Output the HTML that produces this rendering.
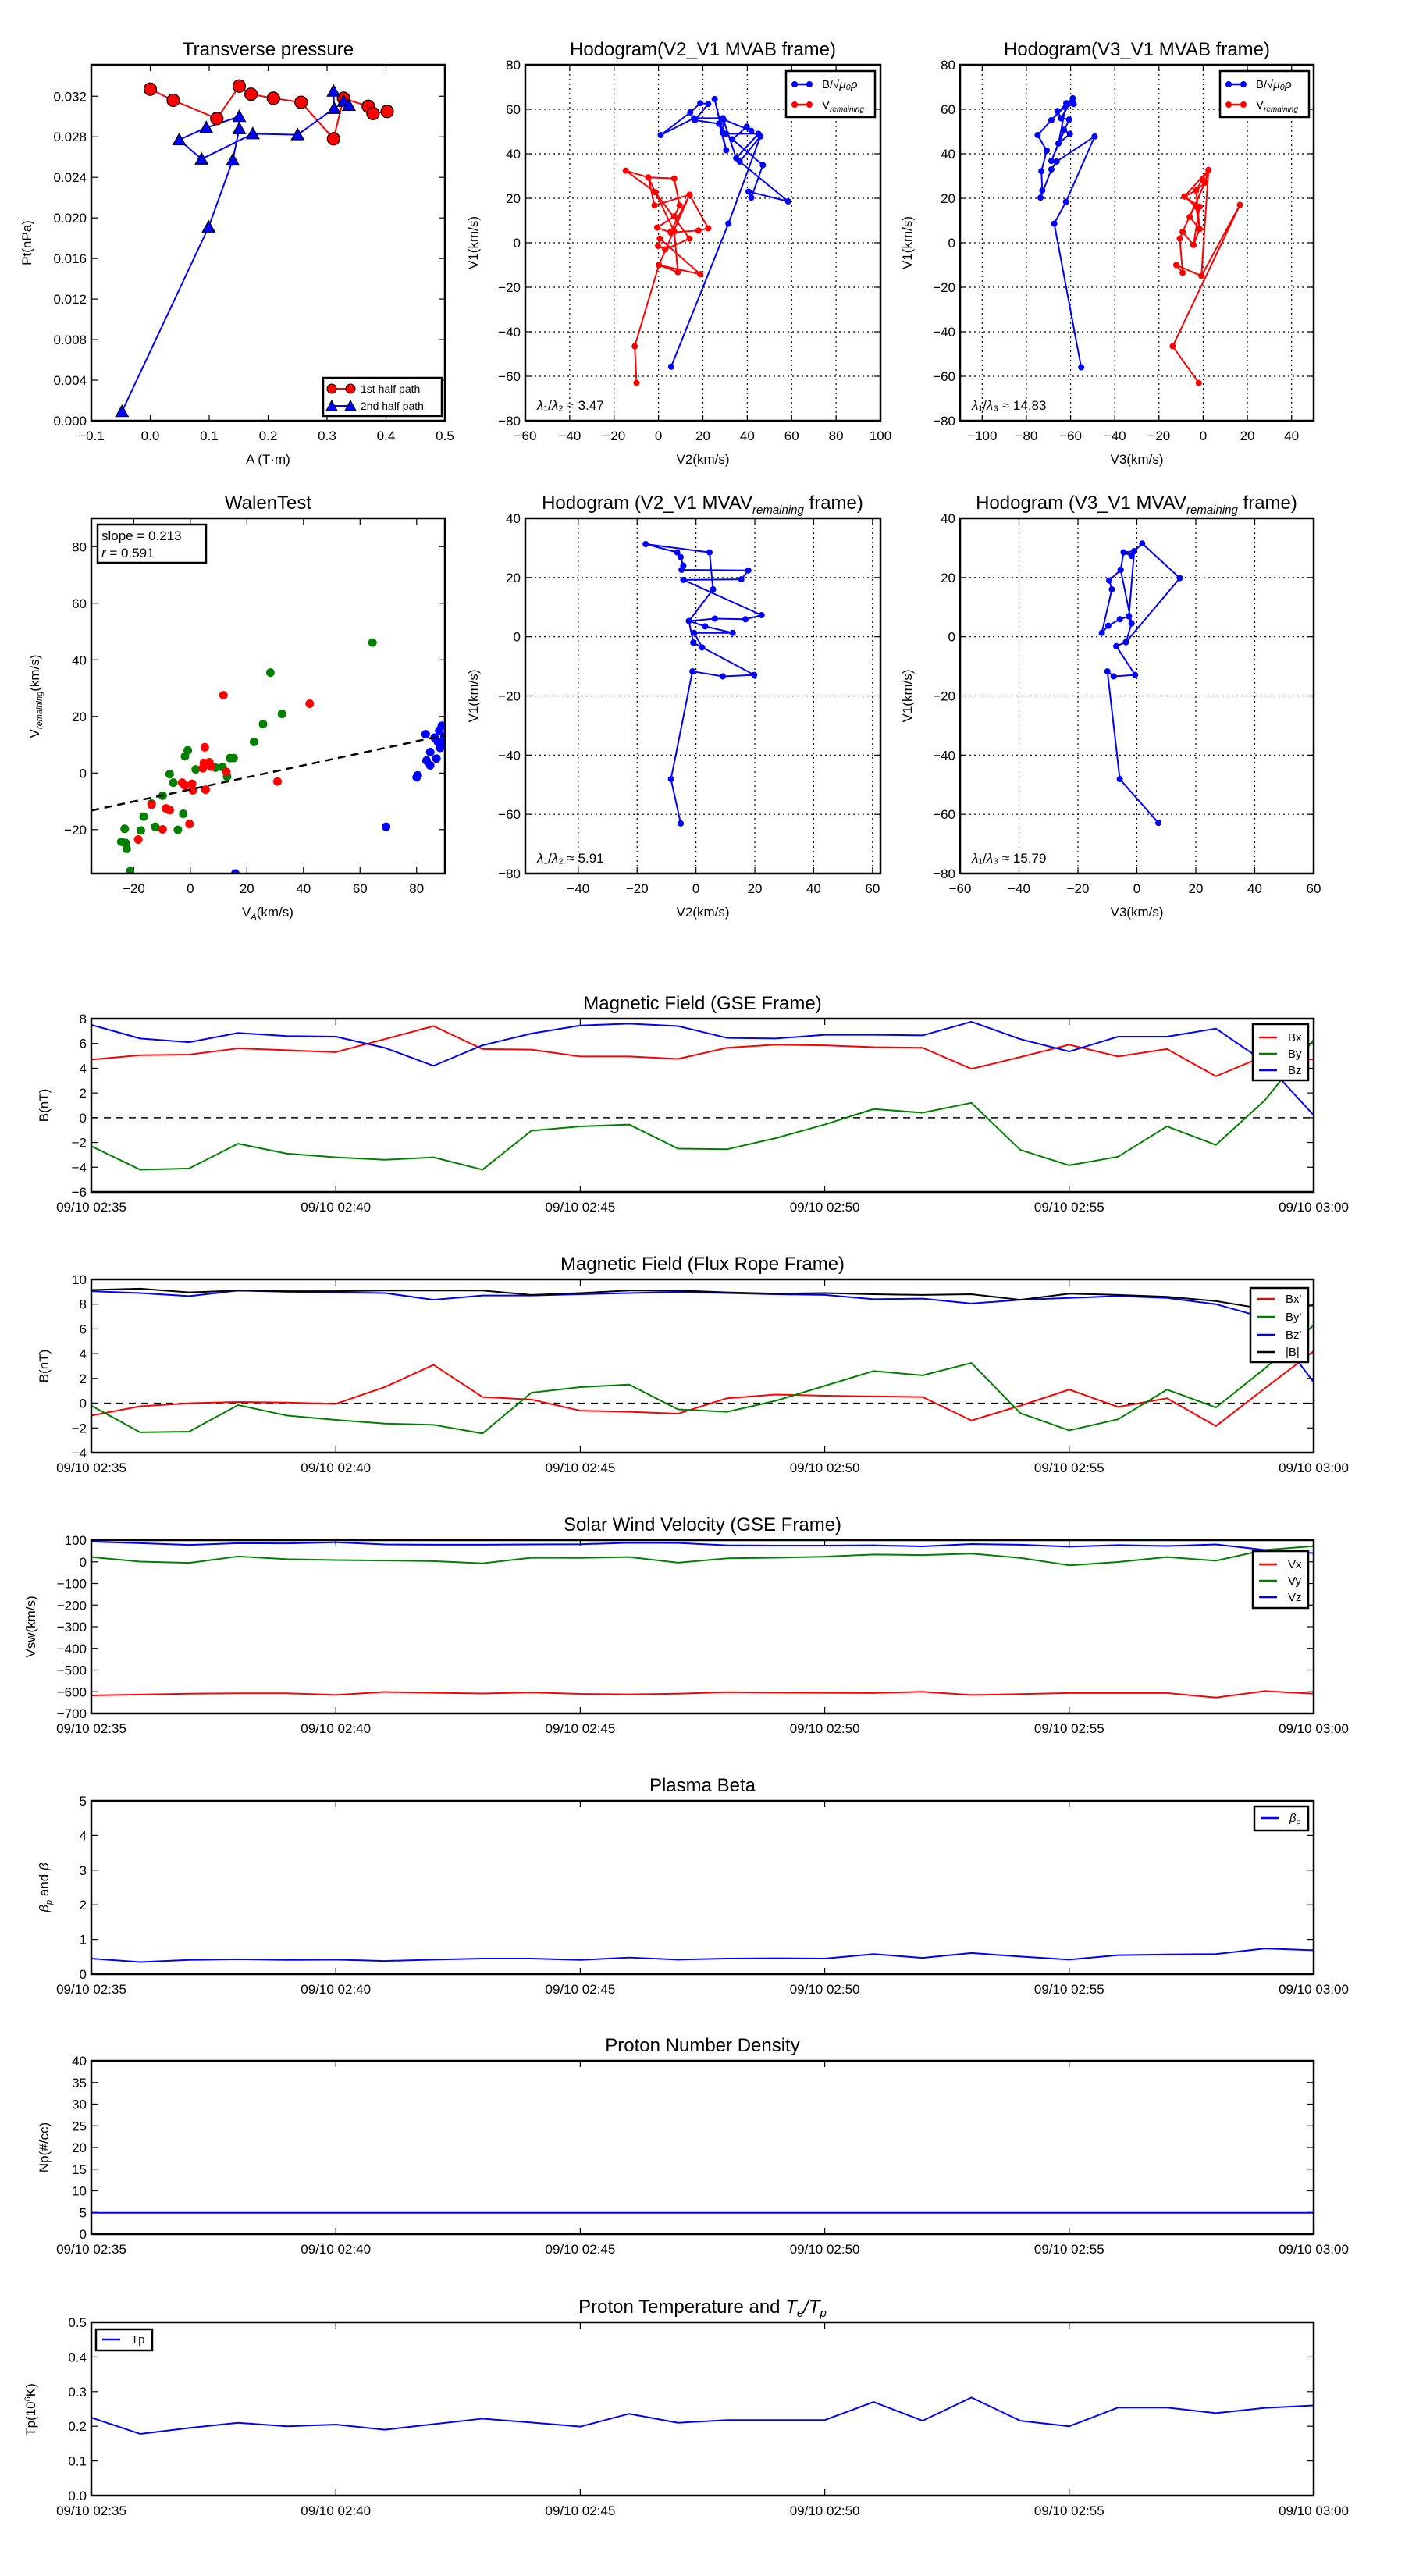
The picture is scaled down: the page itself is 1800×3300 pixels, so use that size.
<!DOCTYPE html>
<html><head><meta charset="utf-8"><style>
html,body{margin:0;padding:0;background:#fff;}
svg{display:block;font-family:"Liberation Sans",sans-serif;}
</style></head><body>
<svg id="fig" xmlns="http://www.w3.org/2000/svg" width="1800" height="3300" viewBox="0 0 1800 3300"><rect width="1800" height="3300" fill="#fff"/></svg>
<script>
// ===== Data =====
const tpRedA=[0.0,0.039,0.113,0.151,0.171,0.209,0.256,0.311,0.328,0.370,0.378,0.402];
const tpRedP=[0.0327,0.0316,0.0298,0.0330,0.0322,0.0318,0.0314,0.0278,0.0318,0.0310,0.0303,0.0305];
const tpBlueA=[-0.048,0.099,0.140,0.151,0.151,0.095,0.049,0.087,0.174,0.250,0.312,0.311,0.328,0.337];
const tpBlueP=[0.0009,0.0191,0.0257,0.0288,0.0300,0.0289,0.0277,0.0258,0.0283,0.0282,0.0308,0.0325,0.0315,0.0311];

const h1BlueX=[5.7,31.5,45.9,36.6,58.4,40.6,41.8,47,33.3,39.8,41.8,29.3,28.9,25.3,30.5,27.3,16.4,22.4,18.8,14.3,1,16,29,35,45,30.5];
const h1BlueY=[-55.7,8.6,47.8,36.5,18.6,23,20.3,34.9,46.5,52.2,50.3,55.4,49.5,64.6,41.6,53.5,55.1,62.4,62.7,58.6,48.4,56,56,38,49,49];
const h1RedX=[-9.9,-10.7,0.2,18.8,0.6,-0.2,3,14,-1.4,-14.7,-4.6,7.1,9.5,7.1,-0.6,5.5,18,22.4,14,-1.8,-4.6,7.1,8.7,0.2,14,5.5];
const h1RedY=[-63,-46.5,-10,-14.1,1.9,-1.4,-3,1.9,22.7,32.4,29.4,28.9,16.8,11.9,6.8,4.6,5.5,6.5,21.6,16.8,29.4,5,-13.2,-10,21.6,5];
const h2BlueX=[-55.2,-67.4,-62.1,-49.1,-66.3,-68.7,-73.6,-72.8,-73.2,-70.8,-74.9,-68.7,-61.9,-59,-58.6,-65.9,-64.3,-60.7,-68.7,-63,-60.3,-65.5,-61.9,-68.7,-59,-64.3];
const h2BlueY=[-56,8.6,18.4,47.8,36.5,33,20.3,23.5,32.2,41.4,48.4,55.1,62.7,64.9,62.4,59.2,56,55.4,36.8,50.8,48.9,44.6,62.7,55.1,64.9,56];
const h2RedX=[-2,-13.8,16.6,-0.8,-12.2,-9.3,-10.6,-9.3,-4.4,-1.6,-3.2,-8.5,-3.2,-0.4,2.4,0.8,-6.1,-1.6,-3.2,0.8,-9.3,-4.4,-1.6,-8.5,2.4,-0.8];
const h2RedY=[-63,-46.5,17,-14.9,-10,-13.5,1.9,4.9,-1,6.2,16.2,20.8,23.5,28.4,32.7,27,11.6,6.2,23.5,27,4.9,-1,16.2,20.8,32.7,-14.9];
const wGreenX=[64.4,28.3,32.4,25.7,22.5,14,15.3,-0.9,-1.9,1.9,-7.3,-6,-9.8,-13.7,-16.5,-23.2,-22.9,-24.4,-22.5,-17.5,-12.4,-4.4,-2.5,-21.3,8.9,11.4,13];
const wGreenY=[46.1,35.5,20.9,17.3,11,5.3,5.3,8,5.9,1.3,-0.4,-3.4,-8,-10.8,-15.4,-19.7,-24.7,-24.3,-26.8,-20.3,-19,-20.1,-14.4,-34.7,1.9,2.1,-1.3];
const wRedX=[11.7,42.2,5.1,4.8,6.7,4.4,7.3,12.7,0.6,0.9,-1.9,5.4,-2.9,-7.3,-8.6,-9.8,-0.3,-18.4,30.8,-13.7];
const wRedY=[27.5,24.5,9.1,3.6,3.8,1.7,2.3,0.4,-3.8,-6.1,-4.4,-5.9,-3.4,-13.1,-12.5,-19.9,-18,-23.5,-3,-11.2];
const wBlueX=[83.2,83.5,84.8,84.8,86.4,88,88.9,88.3,87,80.4,80,69.2,15.9,89.5,89.8,87.5];
const wBlueY=[13.7,4.4,2.7,7.4,12.5,15,16.7,8.9,5.1,-0.8,-1.5,-19,-35.5,10.6,13,11];
const walenFit=[0.213,-5.8];
const m1X=[-5.2,-8.5,-1.2,9.1,19.8,-0.9,2.1,-0.6,12.5,3.1,-2.4,6.4,16.8,22.3,-4.3,15.4,17.8,-4.9,-4.3,-5.2,-6.4,-17.1,4.6,5.8,-2.4,-0.9];
const m1Y=[-63.1,-48.1,-11.7,-13.4,-12.9,-2,-3.6,1.3,1.3,3.5,5.3,6.1,5.9,7.3,19.2,19.4,22.4,22.6,24,26.9,28.5,31.3,28.5,16,5.3,-2];
const m2X=[7.3,-5.8,-10,-7.9,-0.6,-7,-3.7,-1.8,-2.7,-5.8,-9.7,-11.9,-8.5,-9.4,-5.5,-4.5,-1.8,-0.9,1.8,14.6,-3.7,-1.8,-5.5,-4.5,-0.9,-2.7];
const m2Y=[-62.9,-48.1,-11.7,-13.4,-12.9,-3.2,-1.8,4.5,6.9,5.9,3.7,1.3,16,19,22.6,28.5,27.3,28.9,31.5,19.8,-1.8,4.5,22.6,28.5,28.9,6.9];

const minutes=[0,1,2,3,4,5,6,7,8,9,10,11,12,13,14,15,16,17,18,19,20,21,22,23,24,25];
const timeTicks=[0,5,10,15,20,25];
const timeLabels=["09/10 02:35","09/10 02:40","09/10 02:45","09/10 02:50","09/10 02:55","09/10 03:00"];
const gBx=[4.7,5.05,5.1,5.6,5.45,5.3,6.35,7.4,5.55,5.5,4.95,4.95,4.75,5.65,5.9,5.85,5.7,5.65,3.95,4.9,5.9,4.95,5.55,3.35,5.0,4.7];
const gBy=[-2.3,-4.2,-4.1,-2.1,-2.9,-3.2,-3.4,-3.2,-4.2,-1.05,-0.7,-0.55,-2.5,-2.55,-1.65,-0.55,0.7,0.4,1.2,-2.6,-3.85,-3.15,-0.7,-2.2,1.4,6.3];
const gBz=[7.5,6.4,6.1,6.85,6.6,6.55,5.65,4.2,5.85,6.8,7.45,7.6,7.4,6.45,6.4,6.7,6.7,6.65,7.75,6.35,5.35,6.55,6.55,7.2,4.5,0.2];
const fBx=[-1.0,-0.25,0.0,0.1,0.05,-0.05,1.3,3.1,0.5,0.3,-0.6,-0.7,-0.85,0.4,0.7,0.6,0.55,0.5,-1.4,-0.2,1.1,-0.3,0.4,-1.85,1.2,4.2];
const fBy=[-0.2,-2.35,-2.3,-0.15,-1.0,-1.35,-1.65,-1.75,-2.45,0.85,1.3,1.5,-0.5,-0.7,0.2,1.4,2.6,2.25,3.25,-0.8,-2.2,-1.3,1.1,-0.35,2.8,6.3];
const fBz=[9.05,8.9,8.65,9.1,9.0,8.95,8.9,8.35,8.7,8.7,8.8,8.9,9.0,8.9,8.8,8.75,8.4,8.45,8.05,8.35,8.5,8.65,8.5,8.0,6.9,1.7];
const fB=[9.15,9.25,8.95,9.1,9.05,9.05,9.1,9.1,9.1,8.75,8.9,9.1,9.1,8.95,8.85,8.9,8.8,8.75,8.8,8.35,8.85,8.75,8.6,8.25,7.6,7.9];
const vx=[-617,-613,-609,-607,-607,-615,-601,-605,-608,-603,-610,-612,-609,-602,-604,-605,-606,-600,-615,-611,-606,-606,-606,-627,-597,-609];
const vy=[22,1,-5,25,12,8,6,3,-7,19,18,22,-4,16,19,24,34,31,38,18,-16,-1,22,5,55,72];
const vz=[93,86,78,86,85,90,80,79,79,80,81,88,87,76,75,75,76,71,82,79,70,77,73,80,55,40];
const beta=[0.45,0.35,0.41,0.43,0.41,0.42,0.38,0.42,0.45,0.45,0.41,0.48,0.42,0.45,0.46,0.45,0.58,0.47,0.61,0.51,0.42,0.55,0.57,0.58,0.74,0.69];
const np=[4.9,4.9,4.9,4.9,4.9,4.9,4.9,4.9,4.9,4.9,4.9,4.9,4.9,4.9,4.9,4.9,4.9,4.9,4.9,4.9,4.9,4.9,4.9,4.9,4.9,4.9];
const tp=[0.225,0.178,0.195,0.210,0.200,0.205,0.190,0.206,0.222,0.211,0.199,0.236,0.210,0.218,0.218,0.218,0.270,0.216,0.283,0.216,0.200,0.254,0.254,0.238,0.253,0.260];

// ===== Helpers =====
const NS="http://www.w3.org/2000/svg";
const svg=document.getElementById('fig');
let clipN=0;
function mk(tag,parent){const e=document.createElementNS(NS,tag);parent.appendChild(e);return e;}
function at(e,o){for(const k in o)e.setAttribute(k,o[k]);return e;}
function fmt(v,d){const s=Math.abs(v).toFixed(d);return (v<-1e-9?"\u2212":"")+s;}
function txt(parent,x,y,s,size,anchor,extra){const t=mk('text',parent);at(t,{x:x,y:y,'font-size':size,'text-anchor':anchor||'middle',fill:'#000'});if(extra)at(t,extra);t.textContent=s;return t;}

function panel(name,x0,y0,w,h,xd,yd,xt,yt,xlab,ylab,grid){
  const g=mk('g',svg);
  
  
  const sx=v=>x0+(v-xd[0])/(xd[1]-xd[0])*w;
  const sy=v=>y0+h-(v-yd[0])/(yd[1]-yd[0])*h;
  if(grid){
    xt.forEach(v=>{const l=mk('line',g);at(l,{x1:sx(v),x2:sx(v),y1:y0,y2:y0+h,stroke:'#000','stroke-width':1.2,'stroke-dasharray':'2,4'});});
    yt.forEach(v=>{const l=mk('line',g);at(l,{x1:x0,x2:x0+w,y1:sy(v),y2:sy(v),stroke:'#000','stroke-width':1.2,'stroke-dasharray':'2,4'});});
  }
  xt.forEach((v,i)=>{
    const a=mk('line',g);at(a,{x1:sx(v),x2:sx(v),y1:y0,y2:y0+8,stroke:'#000','stroke-width':1.2});
    const b=mk('line',g);at(b,{x1:sx(v),x2:sx(v),y1:y0+h,y2:y0+h-8,stroke:'#000','stroke-width':1.2});
    const t=txt(g,sx(v),y0+h+25,xlab(v,i),17);
    
    
  });
  yt.forEach((v,i)=>{
    const a=mk('line',g);at(a,{x1:x0,x2:x0+8,y1:sy(v),y2:sy(v),stroke:'#000','stroke-width':1.2});
    const b=mk('line',g);at(b,{x1:x0+w,x2:x0+w-8,y1:sy(v),y2:sy(v),stroke:'#000','stroke-width':1.2});
    const t=txt(g,x0-6,sy(v)+6,ylab(v,i),17,'end');
    
    
  });
  const cid='c'+(clipN++);
  const cp=mk('clipPath',g);cp.setAttribute('id',cid);
  const cr=mk('rect',cp);at(cr,{x:x0,y:y0,width:w,height:h});
  const data=mk('g',g);data.setAttribute('clip-path','url(#'+cid+')');
  
  
  const top=mk('g',g);
  const fr=mk('rect',top);at(fr,{x:x0,y:y0,width:w,height:h,fill:'none',stroke:'#000','stroke-width':2.5});
  
  
  return {g,data,top,sx,sy,x0,y0,w,h};
}
function poly(p,X,Y,color,lw,dash){const l=mk('polyline',p.data);at(l,{points:X.map((x,i)=>p.sx(x)+','+p.sy(Y[i])).join(' '),fill:'none',stroke:color,'stroke-width':lw||2,'stroke-linejoin':'round'});if(dash)l.setAttribute('stroke-dasharray',dash);return l;}
function title(p,s){const t=txt(p.g,p.x0+p.w/2,p.y0-12,s,24);return t;}
function ylabel(p,x,s){const t=txt(p.g,x,p.y0+p.h/2,s,17,'middle',{transform:'rotate(-90 '+x+' '+(p.y0+p.h/2)+')'});return t;}
function xlabel(p,s){const t=txt(p.g,p.x0+p.w/2,p.y0+p.h+55,s,17);return t;}
function dots(p,X,Y,color,r,edge){X.forEach((x,i)=>{const c=mk('circle',p.data);at(c,{cx:p.sx(x),cy:p.sy(Y[i]),r:r,fill:color,stroke:edge||'none','stroke-width':1.2});});}
function tris(p,X,Y,color,s){X.forEach((x,i)=>{const cx=p.sx(x),cy=p.sy(Y[i]);const t=mk('polygon',p.data);at(t,{points:(cx)+','+(cy-s)+' '+(cx-s)+','+(cy+s*0.8)+' '+(cx+s)+','+(cy+s*0.8),fill:color,stroke:'#000','stroke-width':1.2});});}
function legendBox(p,x,y,w,h){const r=mk('rect',p.top);at(r,{x:x,y:y,width:w,height:h,fill:'#fff',stroke:'#000','stroke-width':2.5});return r;}
function legLine(p,x,y,color,label,mark){const l=mk('line',p.top);at(l,{x1:x,x2:x+23,y1:y,y2:y,stroke:color,'stroke-width':2.5});if(mark){[x+2,x+21].forEach(cx=>{const c=mk('circle',p.top);at(c,{cx:cx,cy:y,r:mark,fill:color});});}
  const t=txt(p.top,x+37,y+5,'',15,'start');t.innerHTML=label;return t;}
function range(a,b,s){const r=[];for(let v=a;v<=b+1e-9;v+=s)r.push(Math.round(v*1e6)/1e6);return r;}

// ===== Transverse pressure =====
const p1=panel('transverse-pressure-chart',117,83,453,456,[-0.1,0.5],[0,0.0351],range(-0.1,0.5,0.1),range(0,0.032,0.004),v=>fmt(v,1),v=>fmt(v,3),false);
title(p1,'Transverse pressure');ylabel(p1,40,'Pt(nPa)');xlabel(p1,'A (T\u00b7m)');
poly(p1,tpRedA,tpRedP,'#f00',2);poly(p1,tpBlueA,tpBlueP,'#00f',2);
dots(p1,tpRedA,tpRedP,'#f00',8,'#000');tris(p1,tpBlueA,tpBlueP,'#00f',8);
legendBox(p1,414,484,152,49);
{const y=498;const l=mk('line',p1.top);at(l,{x1:422,x2:452,y1:y,y2:y,stroke:'#f00','stroke-width':2});[425,449].forEach(cx=>{const c=mk('circle',p1.top);at(c,{cx:cx,cy:y,r:6,fill:'#f00',stroke:'#000'});});txt(p1.top,462,y+5,'1st half path',14,'start');
 const y2=520;const l2=mk('line',p1.top);at(l2,{x1:422,x2:452,y1:y2,y2:y2,stroke:'#00f','stroke-width':2});[425,449].forEach(cx=>{const t=mk('polygon',p1.top);at(t,{points:cx+','+(y2-7)+' '+(cx-7)+','+(y2+6)+' '+(cx+7)+','+(y2+6),fill:'#00f',stroke:'#000'});});txt(p1.top,462,y2+5,'2nd half path',14,'start');}

// ===== Hodogram V2_V1 MVAB =====
const p2=panel('hodogram-v2-v1-mvab',673,83,455,456,[-60,100],[-80,80],range(-60,100,20),range(-80,80,20),v=>fmt(v,0),v=>fmt(v,0),true);
title(p2,'Hodogram(V2_V1 MVAB frame)');ylabel(p2,612,'V1(km/s)');xlabel(p2,'V2(km/s)');
poly(p2,h1BlueX,h1BlueY,'#00f',2);dots(p2,h1BlueX,h1BlueY,'#00f',4);
poly(p2,h1RedX,h1RedY,'#f00',2);dots(p2,h1RedX,h1RedY,'#f00',4);
legendBox(p2,1007,91,114,59);
legLine(p2,1016,108,'#00f','B/\u221a<tspan font-style="italic">\u03bc\u2080\u03c1</tspan>',4);
legLine(p2,1016,134,'#f00','V<tspan font-size="10" font-style="italic" dy="4">remaining</tspan>',4);
txt(p2.g,688,525,'',17,'start').innerHTML='<tspan font-style="italic">\u03bb</tspan>\u2081/<tspan font-style="italic">\u03bb</tspan>\u2082 \u2248 3.47';

// ===== Hodogram V3_V1 MVAB =====
const p3=panel('hodogram-v3-v1-mvab',1230,83,453,456,[-110,50],[-80,80],range(-100,40,20),range(-80,80,20),v=>fmt(v,0),v=>fmt(v,0),true);
title(p3,'Hodogram(V3_V1 MVAB frame)');ylabel(p3,1168,'V1(km/s)');xlabel(p3,'V3(km/s)');
poly(p3,h2BlueX,h2BlueY,'#00f',2);dots(p3,h2BlueX,h2BlueY,'#00f',4);
poly(p3,h2RedX,h2RedY,'#f00',2);dots(p3,h2RedX,h2RedY,'#f00',4);
legendBox(p3,1563,91,114,59);
legLine(p3,1572,108,'#00f','B/\u221a<tspan font-style="italic">\u03bc\u2080\u03c1</tspan>',4);
legLine(p3,1572,134,'#f00','V<tspan font-size="10" font-style="italic" dy="4">remaining</tspan>',4);
txt(p3.g,1245,525,'',17,'start').innerHTML='<tspan font-style="italic">\u03bb</tspan>\u2081/<tspan font-style="italic">\u03bb</tspan>\u2083 \u2248 14.83';

// ===== WalenTest =====
const p4=panel('walen-test-chart',117,664,453,455,[-35,90],[-35.5,90],range(-20,80,20),range(-20,80,20),v=>fmt(v,0),v=>fmt(v,0),false);
title(p4,'WalenTest');
txt(p4.g,343,1174,'',17).innerHTML='V<tspan font-size="11" font-style="italic" dy="4">A</tspan><tspan dy="-4">(km/s)</tspan>';
{const t=txt(p4.g,50,892,'',17,'middle',{transform:'rotate(-90 50 892)'});t.innerHTML='V<tspan font-size="11" font-style="italic" dy="4">remaining</tspan><tspan dy="-4">(km/s)</tspan>';}
dots(p4,wGreenX,wGreenY,'#008000',5.5);dots(p4,wRedX,wRedY,'#f00',5.5);dots(p4,wBlueX,wBlueY,'#00f',5.5);
{const xs=[-35,90];poly(p4,xs,xs.map(x=>walenFit[0]*x+walenFit[1]),'#000',2.5,'10,7');}
legendBox(p4,125,672,139,49);
txt(p4.top,130,692,'slope = 0.213',17,'start');
txt(p4.top,130,714,'',17,'start').innerHTML='<tspan font-style="italic">r</tspan> = 0.591';

// ===== MVAV V2_V1 =====
const p5=panel('hodogram-v2-v1-mvav',673,664,455,455,[-58,62.7],[-80,40],range(-40,60,20),range(-80,40,20),v=>fmt(v,0),v=>fmt(v,0),true);
txt(p5.g,900,652,'',24).innerHTML='Hodogram (V2_V1 MVAV<tspan font-size="15" font-style="italic" dy="6">remaining</tspan><tspan dy="-6"> frame)</tspan>';
ylabel(p5,612,'V1(km/s)');xlabel(p5,'V2(km/s)');
poly(p5,m1X,m1Y,'#00f',2);dots(p5,m1X,m1Y,'#00f',4);
txt(p5.g,688,1105,'',17,'start').innerHTML='<tspan font-style="italic">\u03bb</tspan>\u2081/<tspan font-style="italic">\u03bb</tspan>\u2082 \u2248 5.91';

// ===== MVAV V3_V1 =====
const p6=panel('hodogram-v3-v1-mvav',1230,664,453,455,[-60,60],[-80,40],range(-60,60,20),range(-80,40,20),v=>fmt(v,0),v=>fmt(v,0),true);
txt(p6.g,1456,652,'',24).innerHTML='Hodogram (V3_V1 MVAV<tspan font-size="15" font-style="italic" dy="6">remaining</tspan><tspan dy="-6"> frame)</tspan>';
ylabel(p6,1168,'V1(km/s)');xlabel(p6,'V3(km/s)');
poly(p6,m2X,m2Y,'#00f',2);dots(p6,m2X,m2Y,'#00f',4);
txt(p6.g,1245,1105,'',17,'start').innerHTML='<tspan font-style="italic">\u03bb</tspan>\u2081/<tspan font-style="italic">\u03bb</tspan>\u2083 \u2248 15.79';

// ===== Time series =====
function ts(name,y0,yd,yt,yf){return panel(name,117,y0,1566,222,[0,25],yd,timeTicks,yt,(v,i)=>timeLabels[i],yf,false);}
const q1=ts('magnetic-field-gse-chart',1305,[-6,8],range(-6,8,2),v=>fmt(v,0));
title(q1,'Magnetic Field (GSE Frame)');ylabel(q1,62,'B(nT)');
poly(q1,[0,25],[0,0],'#000',1.5,'9,7');
poly(q1,minutes,gBx,'#f00');poly(q1,minutes,gBy,'#008000');poly(q1,minutes,gBz,'#00f');
legendBox(q1,1605,1312,71,72);
legLine(q1,1613,1329,'#f00','Bx');legLine(q1,1613,1350,'#008000','By');legLine(q1,1613,1371,'#00f','Bz');

const q2=ts('magnetic-field-flux-rope-chart',1639,[-4,10],range(-4,10,2),v=>fmt(v,0));
title(q2,'Magnetic Field (Flux Rope Frame)');ylabel(q2,62,'B(nT)');
poly(q2,[0,25],[0,0],'#000',1.5,'9,7');
poly(q2,minutes,fBx,'#f00');poly(q2,minutes,fBy,'#008000');poly(q2,minutes,fBz,'#00f');poly(q2,minutes,fB,'#000');
legendBox(q2,1602,1650,74,95);
legLine(q2,1610,1664,'#f00',"Bx'");legLine(q2,1610,1687,'#008000',"By'");legLine(q2,1610,1710,'#00f',"Bz'");legLine(q2,1610,1732,'#000','|B|');

const q3=ts('solar-wind-velocity-chart',1973,[-700,100],range(-700,100,100),v=>fmt(v,0));
title(q3,'Solar Wind Velocity (GSE Frame)');ylabel(q3,45,'Vsw(km/s)');
poly(q3,minutes,vx,'#f00');poly(q3,minutes,vy,'#008000');poly(q3,minutes,vz,'#00f');
legendBox(q3,1605,1987,71,73);
legLine(q3,1613,2004,'#f00','Vx');legLine(q3,1613,2025,'#008000','Vy');legLine(q3,1613,2046,'#00f','Vz');

const q4=ts('plasma-beta-chart',2307,[0,5],range(0,5,1),v=>fmt(v,0));
title(q4,'Plasma Beta');
{const t=txt(q4.g,62,2418,'',17,'middle',{transform:'rotate(-90 62 2418)'});t.innerHTML='<tspan font-style="italic">\u03b2</tspan><tspan font-size="11" font-style="italic" dy="4">p</tspan><tspan dy="-4"> and </tspan><tspan font-style="italic">\u03b2</tspan>';}
poly(q4,minutes,beta,'#00f');
legendBox(q4,1607,2314,69,31);
legLine(q4,1615,2329,'#00f','<tspan font-style="italic">\u03b2</tspan><tspan font-size="10" dy="3">p</tspan>');

const q5=ts('proton-density-chart',2640,[0,40],range(0,40,5),v=>fmt(v,0));
title(q5,'Proton Number Density');ylabel(q5,62,'Np(#/cc)');
poly(q5,minutes,np,'#00f');

const q6=ts('proton-temperature-chart',2975,[0,0.5],range(0,0.5,0.1),v=>fmt(v,1));
txt(q6.g,900,2963,'',24).innerHTML='Proton Temperature and <tspan font-style="italic">T</tspan><tspan font-size="15" font-style="italic" dy="5">e</tspan><tspan dy="-5" font-style="italic">/T</tspan><tspan font-size="15" font-style="italic" dy="5">p</tspan>';
{const t=txt(q6.g,45,3087,'',17,'middle',{transform:'rotate(-90 45 3087)'});t.innerHTML='Tp(10<tspan font-size="11" dy="-6">6</tspan><tspan dy="6">K)</tspan>';}
poly(q6,minutes,tp,'#00f');
legendBox(q6,123,2984,72,27);
legLine(q6,131,2997,'#00f','Tp');
</script>
</body></html>
